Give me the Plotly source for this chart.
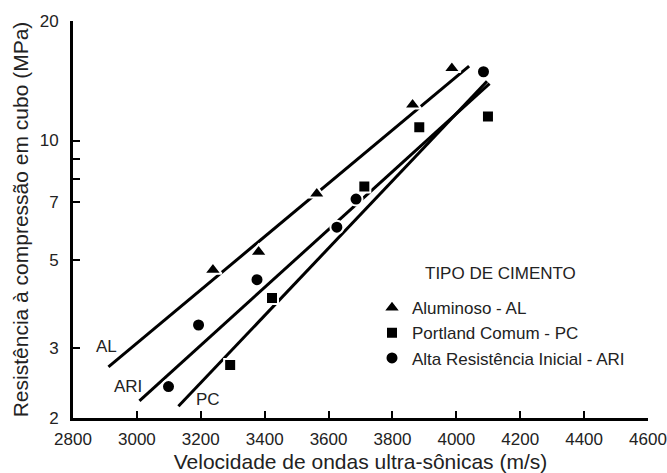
import math
import plotly.graph_objects as go

# --- data ---
al_x = [3238, 3381, 3563, 3863, 3986]
al_y = [4.72, 5.24, 7.34, 12.3, 15.2]
pc_x = [3292, 3423, 3712, 3884, 4099]
pc_y = [2.72, 4.01, 7.66, 10.8, 11.5]
ari_x = [3099, 3193, 3376, 3626, 3686, 4085]
ari_y = [2.40, 3.43, 4.46, 6.05, 7.12, 14.9]

# regression lines (end points)
al_line_x = [2911, 4040]
al_line_y = [2.69, 15.4]
ari_line_x = [3008, 4104]
ari_line_y = [2.21, 13.9]
pc_line_x = [3130, 4096]
pc_line_y = [2.14, 14.1]

# line labels
line_labels = ["AL", "ARI", "PC"]
label_x = [2906, 2971, 3224]
label_y = [3.03, 2.40, 2.23]

x_ticks = [2800, 3000, 3200, 3400, 3600, 3800, 4000, 4200, 4400, 4600]
y_ticks = [2, 3, 5, 7, 8, 9, 10, 20]
y_ticktext = ["2", "3", "5", "7", "", "", "10", "20"]

series_names = ["Aluminoso - AL", "Portland Comum - PC", "Alta Resistência Inicial - ARI"]
legend_title = "TIPO DE CIMENTO"

FONT = "Liberation Sans, Arial, sans-serif"
TXT = "#222222"

fig = go.Figure()

for lx, ly in [(al_line_x, al_line_y), (ari_line_x, ari_line_y), (pc_line_x, pc_line_y)]:
    fig.add_trace(go.Scatter(x=lx, y=ly, mode="lines",
                             line=dict(color="black", width=3),
                             showlegend=False, hoverinfo="skip"))

marker_line = dict(color="white", width=2)
fig.add_trace(go.Scatter(x=al_x, y=al_y, mode="markers", name=series_names[0],
                         marker=dict(symbol="triangle-up", size=15, color="black", line=marker_line)))
fig.add_trace(go.Scatter(x=pc_x, y=pc_y, mode="markers", name=series_names[1],
                         marker=dict(symbol="square", size=12, color="black", line=marker_line)))
fig.add_trace(go.Scatter(x=ari_x, y=ari_y, mode="markers", name=series_names[2],
                         marker=dict(symbol="circle", size=13, color="black", line=marker_line)))

# annotations on a log axis take log10 values
for t, x, y in zip(line_labels, label_x, label_y):
    fig.add_annotation(x=x, y=math.log10(y), yref="y", xref="x", text=t, showarrow=False,
                       font=dict(family=FONT, size=17, color=TXT))

fig.add_annotation(x=0.743, y=0.365, xref="paper", yref="paper", text=legend_title,
                   showarrow=False, xanchor="center", yanchor="middle",
                   font=dict(family=FONT, size=17, color=TXT))

fig.update_layout(
    width=667, height=473,
    margin=dict(l=73, r=19, t=21, b=55),
    paper_bgcolor="white", plot_bgcolor="white",
    font=dict(family=FONT, size=17, color=TXT),
    showlegend=True,
    legend=dict(
        x=0.520, y=0.322, xanchor="left", yanchor="top",
        bgcolor="rgba(0,0,0,0)",
        font=dict(family=FONT, size=17, color=TXT),
    ),
)

fig.update_xaxes(
    range=[2800, 4600], tickvals=x_ticks, ticks="inside", ticklen=7, tickwidth=2,
    tickcolor="black", showline=True, linecolor="black", linewidth=3,
    showgrid=False, zeroline=False, ticklabelstandoff=4, automargin=False,
    tickfont=dict(family=FONT, size=17, color=TXT),
    title=dict(text="Velocidade de ondas ultra-sônicas (m/s)", standoff=10,
               font=dict(family=FONT, size=21, color=TXT)),
)
fig.update_yaxes(
    type="log", range=[0.30103, 1.30103], tickvals=y_ticks, ticktext=y_ticktext,
    ticks="inside", ticklen=7, tickwidth=2, tickcolor="black",
    showline=True, linecolor="black", linewidth=3, showgrid=False, zeroline=False,
    ticklabelstandoff=8, automargin=False,
    tickfont=dict(family=FONT, size=17, color=TXT),
    title=dict(text="Resistência à compressão em cubo (MPa)", standoff=6,
               font=dict(family=FONT, size=21, color=TXT)),
)

fig.write_html("out.html")
